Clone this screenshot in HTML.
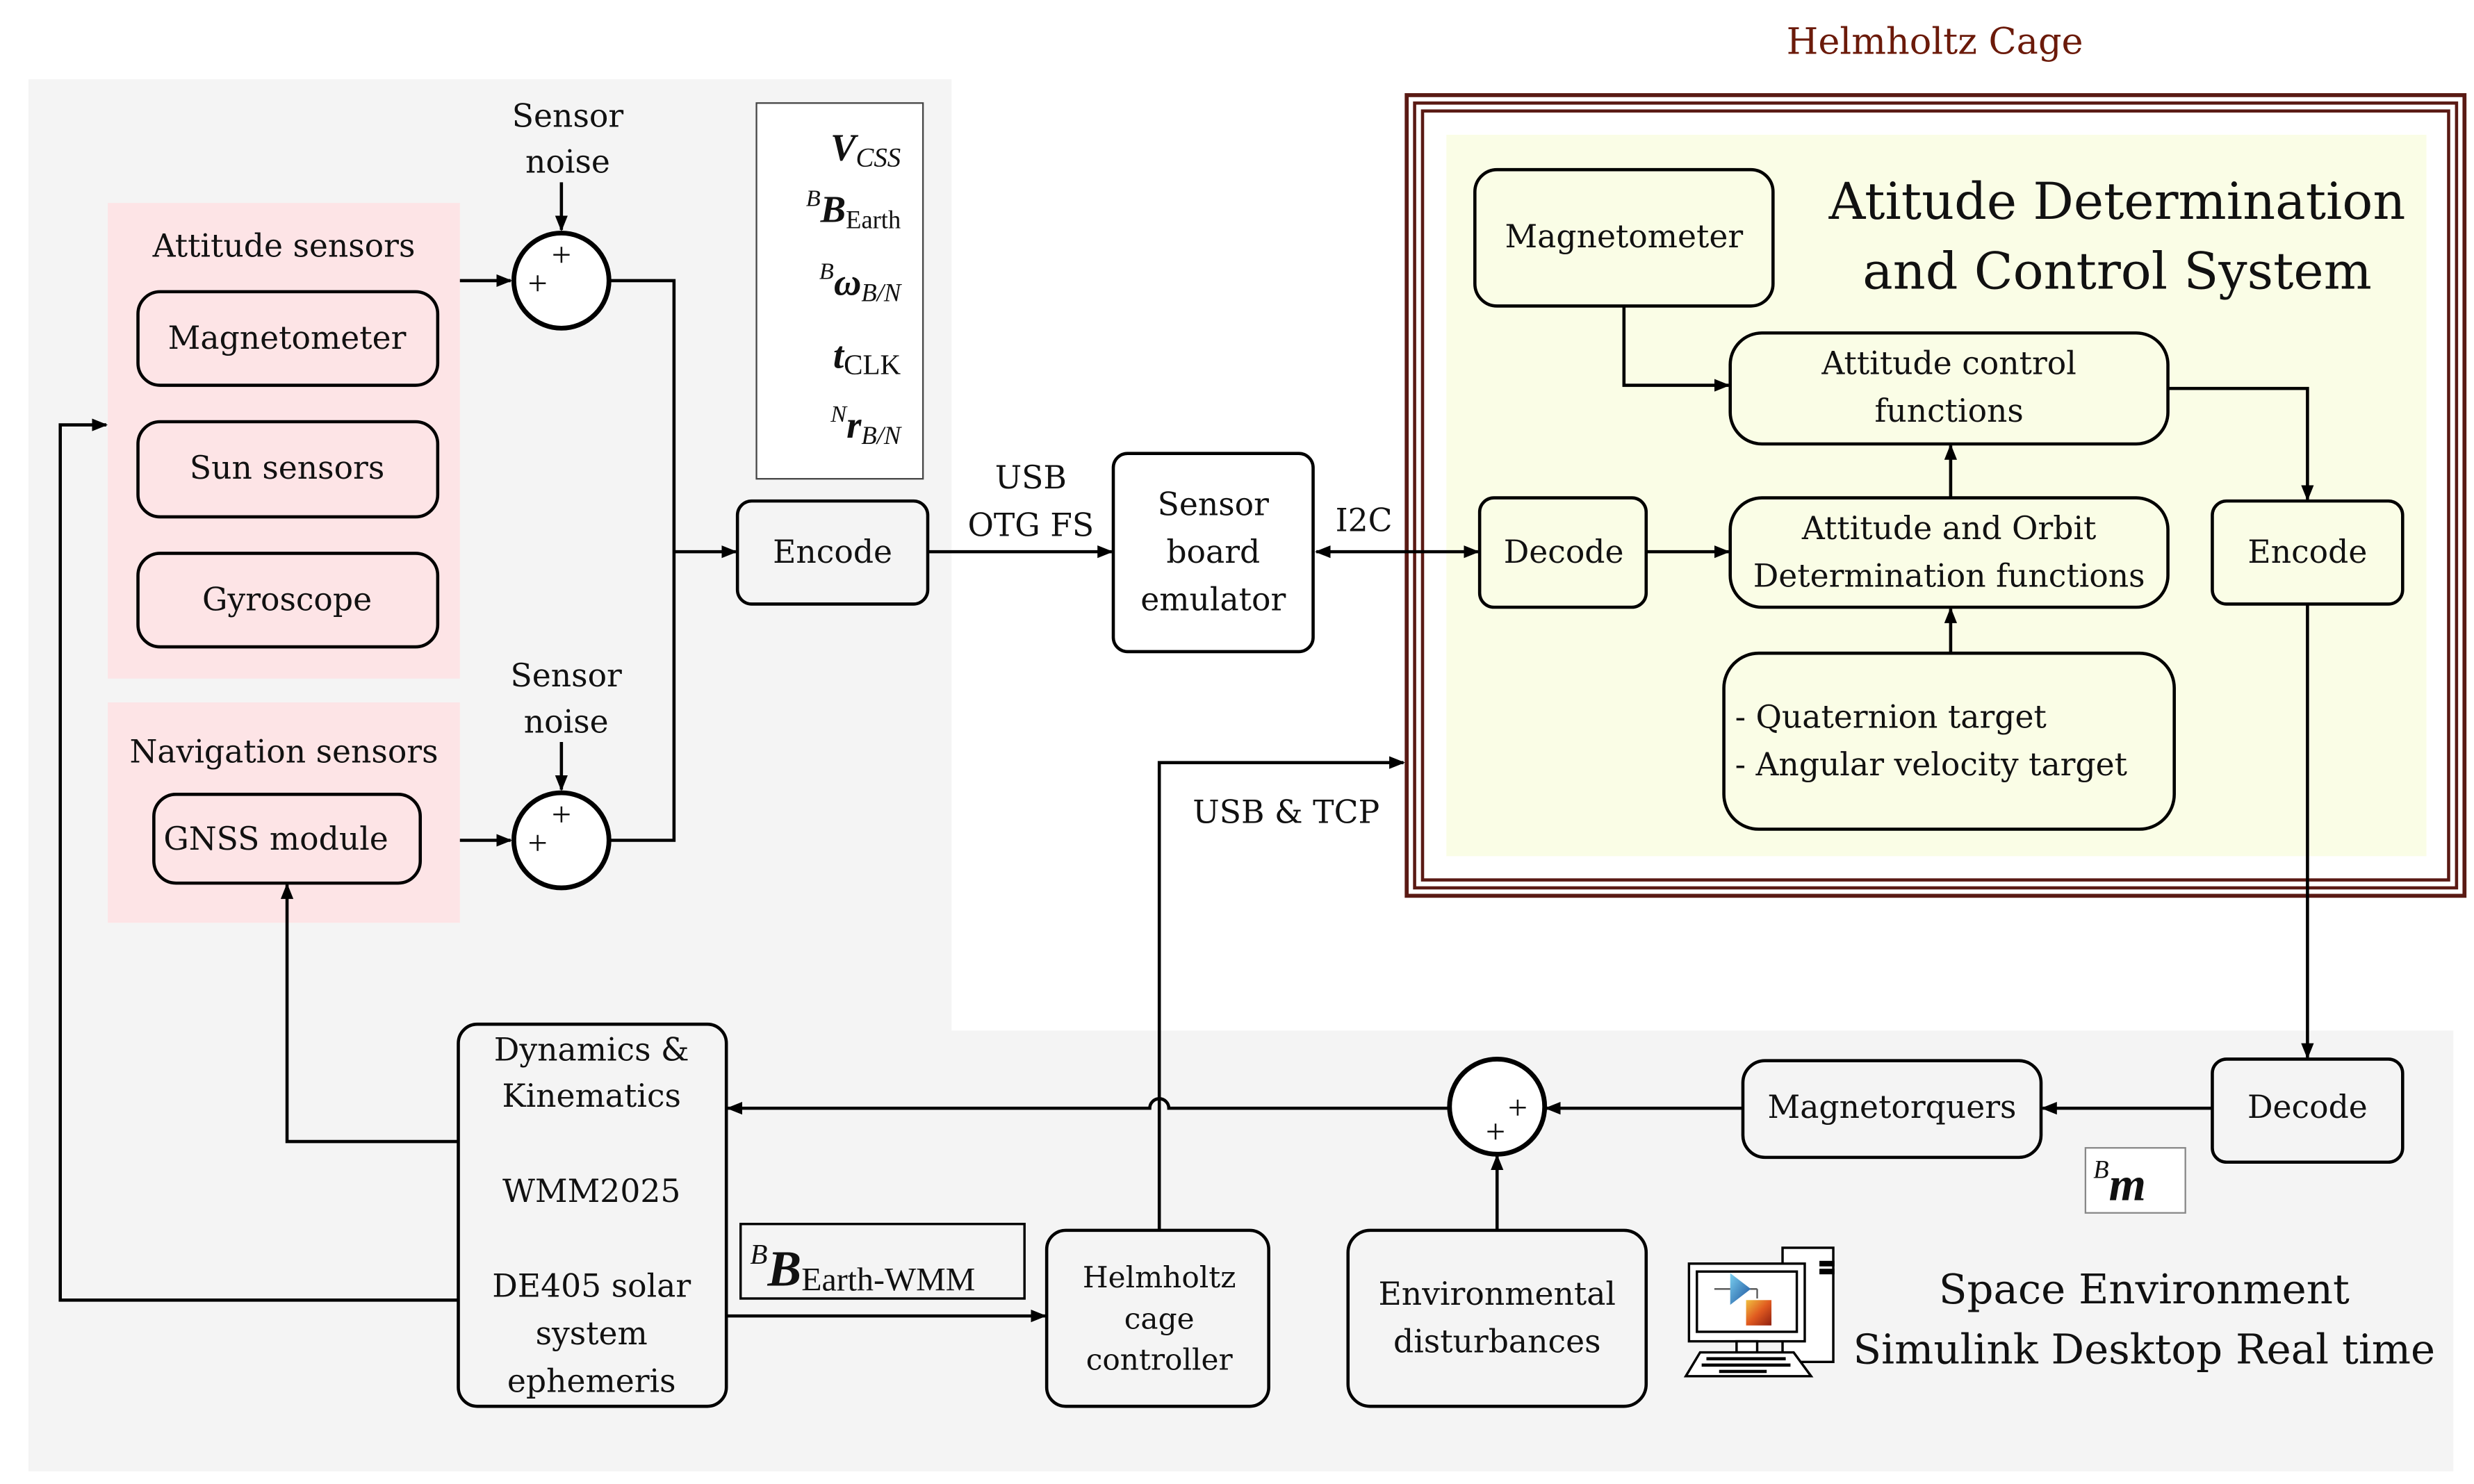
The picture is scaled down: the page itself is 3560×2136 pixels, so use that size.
<!DOCTYPE html>
<html><head><meta charset="utf-8"><style>
html,body{margin:0;padding:0;background:#fff}
svg{display:block}
text{font-family:"DejaVu Serif","Liberation Serif",serif;fill:#111}
text.m{font-family:"Liberation Serif",serif}
</style></head><body>
<svg width="3560" height="2136" viewBox="0 0 1560 936" preserveAspectRatio="none" xmlns="http://www.w3.org/2000/svg">
<defs>
<marker id="a" markerWidth="10" markerHeight="10" refX="9" refY="5" orient="auto" markerUnits="userSpaceOnUse">
<path d="M0,1 L10,5 L0,9 z" fill="#000"/></marker>
<marker id="s" markerWidth="10" markerHeight="10" refX="1" refY="5" orient="auto" markerUnits="userSpaceOnUse">
<path d="M10,1 L0,5 L10,9 z" fill="#000"/></marker>
<linearGradient id="bl" x1="0" y1="0" x2="1" y2="1"><stop offset="0" stop-color="#7ad0f0"/><stop offset="1" stop-color="#1a4f9a"/></linearGradient>
<linearGradient id="or" x1="0" y1="0" x2="1" y2="1"><stop offset="0" stop-color="#f0c040"/><stop offset="0.5" stop-color="#e05a20"/><stop offset="1" stop-color="#902010"/></linearGradient>
</defs>
<rect width="1560" height="936" fill="#fff"/>
<rect x="18" y="50" width="582" height="878" fill="#f4f4f4"/>
<rect x="18" y="650" width="1529" height="278" fill="#f4f4f4"/>
<text x="1220" y="34" font-size="23" text-anchor="middle" style="fill:#6b1a0a">Helmholtz Cage</text>
<rect x="887" y="60" width="667" height="505" fill="#fff" stroke="#5a1a14" stroke-width="2.5"/>
<rect x="892" y="65" width="657" height="495" fill="none" stroke="#5a1a14" stroke-width="2"/>
<rect x="897" y="70" width="647" height="485" fill="none" stroke="#5a1a14" stroke-width="2"/>
<rect x="912" y="85" width="618" height="455" fill="#fafde6"/>
<rect x="68" y="128" width="222" height="300" fill="#fde4e6"/>
<rect x="68" y="443" width="222" height="139" fill="#fde4e6"/>
<text x="179" y="162" font-size="20" text-anchor="middle">Attitude sensors</text>
<text x="179" y="481" font-size="20" text-anchor="middle">Navigation sensors</text>
<g fill="none" stroke="#000" stroke-width="2">
<rect x="87" y="184" width="189" height="59" rx="14"/>
<rect x="87" y="266" width="189" height="60" rx="14"/>
<rect x="87" y="349" width="189" height="59" rx="14"/>
<rect x="97" y="501" width="168" height="56" rx="14"/>
</g>
<text x="181" y="220" font-size="20" text-anchor="middle">Magnetometer</text>
<text x="181" y="302" font-size="20" text-anchor="middle">Sun sensors</text>
<text x="181" y="385" font-size="20" text-anchor="middle">Gyroscope</text>
<text x="174" y="536" font-size="20" text-anchor="middle">GNSS module</text>
<g fill="#fff" stroke="#000" stroke-width="3">
<circle cx="354" cy="177" r="30"/><circle cx="354" cy="530" r="30"/><circle cx="944" cy="698" r="30"/>
</g>
<g font-size="22" text-anchor="middle">
<text class="m" x="354" y="168">+</text><text class="m" x="339" y="186">+</text>
<text class="m" x="354" y="521">+</text><text class="m" x="339" y="539">+</text>
<text class="m" x="957" y="706">+</text><text class="m" x="943" y="721">+</text>
</g>
<g font-size="20" text-anchor="middle">
<text x="358" y="80">Sensor</text><text x="358" y="109">noise</text>
<text x="357" y="433">Sensor</text><text x="357" y="462">noise</text>
</g>
<rect x="477" y="65" width="105" height="237" fill="#fff" stroke="#444" stroke-width="1"/>
<g font-size="24" text-anchor="end">
<text class="m" x="568" y="101"><tspan font-weight="bold" font-style="italic">V</tspan><tspan font-size="17" font-style="italic" dy="4">CSS</tspan></text>
<text class="m" x="568" y="140"><tspan font-size="15" font-style="italic" dy="-10">B</tspan><tspan font-weight="bold" font-style="italic" dy="10">B</tspan><tspan font-size="16" dy="4">Earth</tspan></text>
<text class="m" x="568" y="186"><tspan font-size="15" font-style="italic" dy="-10">B</tspan><tspan font-weight="bold" font-style="italic" dy="10">ω</tspan><tspan font-size="16" font-style="italic" dy="4">B/N</tspan></text>
<text class="m" x="568" y="232"><tspan font-weight="bold" font-style="italic">t</tspan><tspan font-size="18" dy="4">CLK</tspan></text>
<text class="m" x="568" y="276"><tspan font-size="15" font-style="italic" dy="-10">N</tspan><tspan font-weight="bold" font-style="italic" dy="10">r</tspan><tspan font-size="16" font-style="italic" dy="4">B/N</tspan></text>
</g>
<g fill="#f4f4f4" stroke="#000" stroke-width="2">
<rect x="465" y="316" width="120" height="65" rx="9"/>
<rect x="702" y="286" width="126" height="125" rx="9" fill="#fff"/>
<rect x="289" y="646" width="169" height="241" rx="12"/>
<rect x="660" y="776" width="140" height="111" rx="12"/>
<rect x="850" y="776" width="188" height="111" rx="14"/>
<rect x="1099" y="669" width="188" height="61" rx="14"/>
<rect x="1395" y="668" width="120" height="65" rx="9"/>
</g>
<g fill="#fafde6" stroke="#000" stroke-width="2">
<rect x="930" y="107" width="188" height="86" rx="14"/>
<rect x="1091" y="210" width="276" height="70" rx="20"/>
<rect x="933" y="314" width="105" height="69" rx="9"/>
<rect x="1091" y="314" width="276" height="69" rx="20"/>
<rect x="1087" y="412" width="284" height="111" rx="22"/>
<rect x="1395" y="316" width="120" height="65" rx="9"/>
</g>
<rect x="467" y="772" width="179" height="47" fill="none" stroke="#000" stroke-width="1.5"/>
<rect x="1315" y="724" width="63" height="41" fill="#fff" stroke="#888" stroke-width="1"/>
<g font-size="20" text-anchor="middle">
<text x="525" y="355">Encode</text>
<text x="765" y="325">Sensor</text><text x="765" y="355">board</text><text x="765" y="385">emulator</text>
<text x="650" y="308">USB</text><text x="650" y="338">OTG FS</text>
<text x="860" y="335">I2C</text>
<text x="1024" y="156">Magnetometer</text>
<text x="1229" y="236">Attitude control</text><text x="1229" y="266">functions</text>
<text x="986" y="355">Decode</text>
<text x="1229" y="340">Attitude and Orbit</text><text x="1229" y="370">Determination functions</text>
<text x="1455" y="355">Encode</text>
<text x="1455" y="705">Decode</text>
<text x="1193" y="705">Magnetorquers</text>
<text x="944" y="823">Environmental</text><text x="944" y="853">disturbances</text>
<text x="373" y="669">Dynamics &amp;</text><text x="373" y="698">Kinematics</text>
<text x="373" y="758">WMM2025</text>
<text x="373" y="818">DE405 solar</text><text x="373" y="848">system</text><text x="373" y="878">ephemeris</text>
<text x="811" y="519">USB &amp; TCP</text>
</g>
<g font-size="20" text-anchor="start">
<text x="1094" y="459">- Quaternion target</text><text x="1094" y="489">- Angular velocity target</text>
</g>
<g font-size="18.5" text-anchor="middle">
<text x="731" y="812">Helmholtz</text><text x="731" y="838">cage</text><text x="731" y="864">controller</text>
</g>
<text x="1335" y="138" font-size="32" text-anchor="middle">Atitude Determination</text>
<text x="1335" y="182" font-size="32" text-anchor="middle">and Control System</text>
<text x="1352" y="822" font-size="26" text-anchor="middle">Space Environment</text>
<text x="1352" y="860" font-size="26" text-anchor="middle">Simulink Desktop Real time</text>
<text class="m" x="473" y="811" font-size="32"><tspan font-size="18" font-style="italic" dy="-14">B</tspan><tspan font-weight="bold" font-style="italic" dy="14">B</tspan><tspan font-size="21" dy="3">Earth-WMM</tspan></text>
<text class="m" x="1320" y="757" font-size="30"><tspan font-size="16" font-style="italic" dy="-14">B</tspan><tspan font-weight="bold" font-style="italic" dy="14">m</tspan></text>
<g fill="none" stroke="#000" stroke-width="2">
<line x1="354" y1="115" x2="354" y2="145" marker-end="url(#a)"/>
<line x1="354" y1="468" x2="354" y2="498" marker-end="url(#a)"/>
<line x1="290" y1="177" x2="322" y2="177" marker-end="url(#a)"/>
<line x1="290" y1="530" x2="322" y2="530" marker-end="url(#a)"/>
<polyline points="384,177 425,177 425,530 384,530"/>
<line x1="425" y1="348" x2="464" y2="348" marker-end="url(#a)"/>
<line x1="585" y1="348" x2="701" y2="348" marker-end="url(#a)"/>
<line x1="830" y1="348" x2="932" y2="348" marker-start="url(#s)" marker-end="url(#a)"/>
<polyline points="1024,193 1024,243 1090,243" marker-end="url(#a)"/>
<line x1="1038" y1="348" x2="1090" y2="348" marker-end="url(#a)"/>
<line x1="1230" y1="314" x2="1230" y2="281" marker-end="url(#a)"/>
<line x1="1230" y1="412" x2="1230" y2="384" marker-end="url(#a)"/>
<polyline points="1367,245 1455,245 1455,315" marker-end="url(#a)"/>
<line x1="1455" y1="381" x2="1455" y2="667" marker-end="url(#a)"/>
<line x1="1395" y1="699" x2="1288" y2="699" marker-end="url(#a)"/>
<line x1="1099" y1="699" x2="975" y2="699" marker-end="url(#a)"/>
<line x1="944" y1="776" x2="944" y2="729" marker-end="url(#a)"/>
<path d="M914,699 L737,699 A6,6 0 0 0 725,699 L459,699" marker-end="url(#a)"/>
<polyline points="289,720 181,720 181,558" marker-end="url(#a)"/>
<polyline points="289,820 38,820 38,268 67,268" marker-end="url(#a)"/>
<line x1="458" y1="830" x2="659" y2="830" marker-end="url(#a)"/>
<polyline points="731,776 731,481 885,481" marker-end="url(#a)"/>
</g>
<g stroke="#000" stroke-width="1.5">
<rect x="1124" y="787" width="32" height="72" fill="#fff"/>
<rect x="1148" y="796" width="8" height="2" fill="#000"/><rect x="1148" y="801" width="8" height="2" fill="#000"/>
<rect x="1065" y="797" width="73" height="49" fill="#fff"/>
<rect x="1070" y="802" width="63" height="38" fill="#fff"/>
<rect x="1095" y="846" width="13" height="7" fill="#fff"/>
<polygon points="1072,853 1131,853 1142,868 1063,868" fill="#fff"/>
</g>
<g fill="#000">
<rect x="1076" y="856" width="50" height="2"/><rect x="1073" y="860" width="56" height="2"/><rect x="1084" y="864" width="30" height="2"/>
</g>
<line x1="1081" y1="813" x2="1108" y2="813" stroke="#555" stroke-width="1"/>
<line x1="1108" y1="813" x2="1108" y2="819" stroke="#555" stroke-width="1"/>
<polygon points="1091,803 1104,813 1091,823" fill="url(#bl)"/>
<rect x="1101" y="820" width="16" height="16" fill="url(#or)"/>
</svg>
</body></html>
